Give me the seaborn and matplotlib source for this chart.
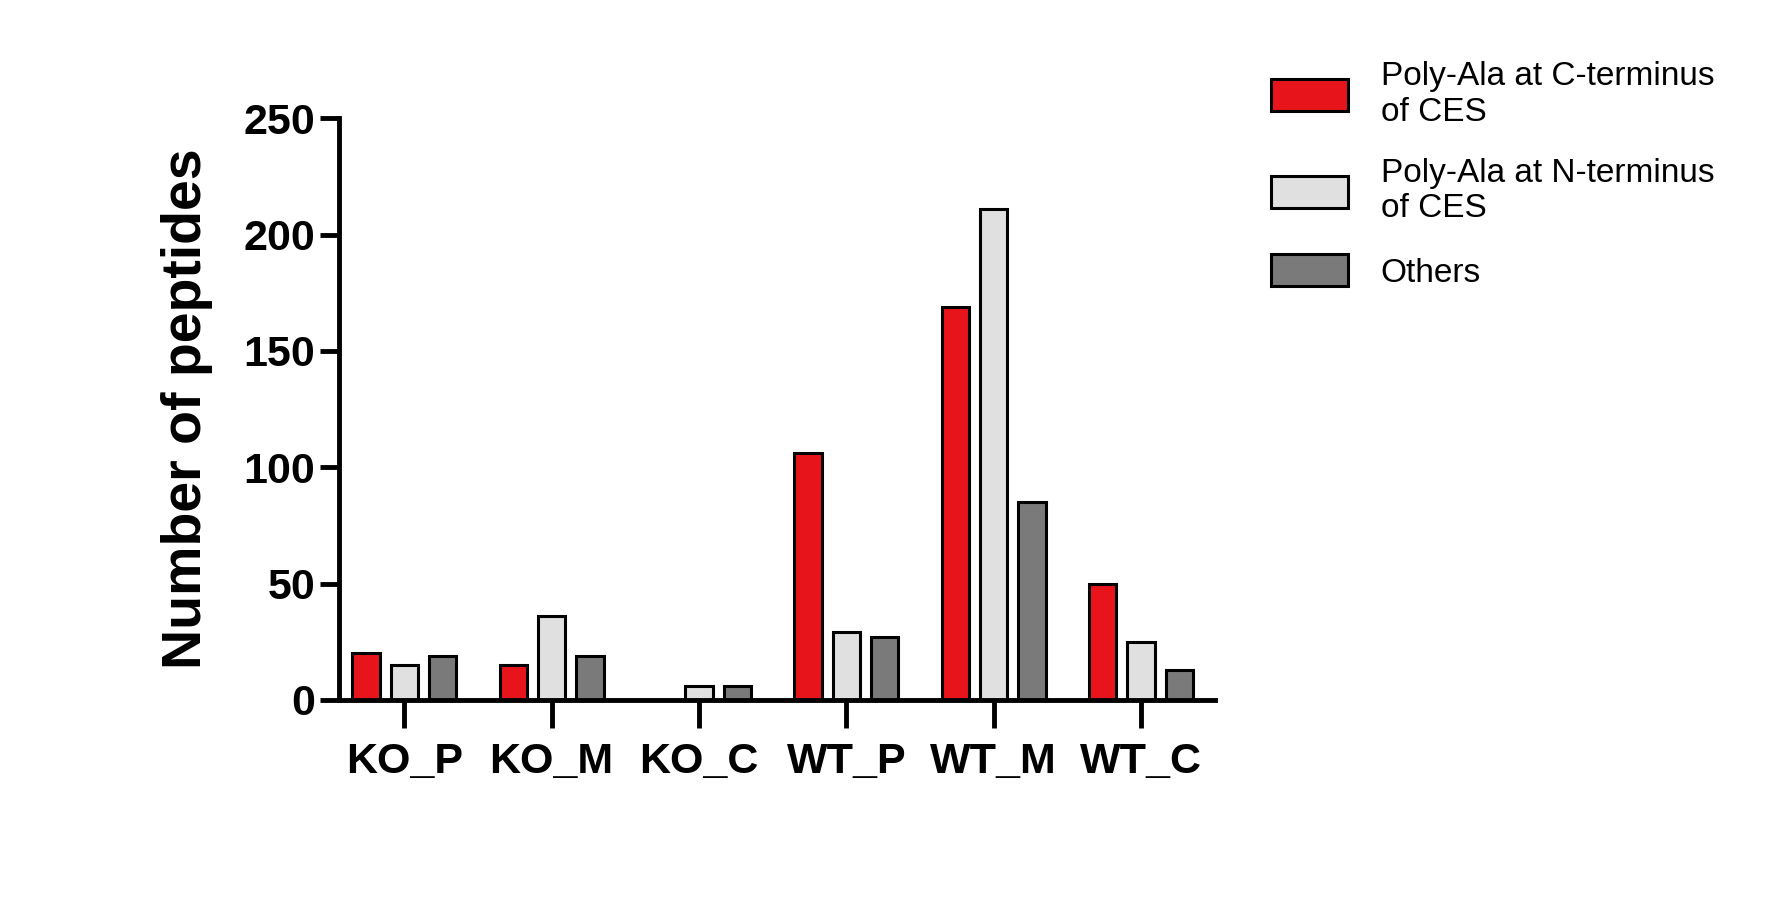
import matplotlib
matplotlib.use("Agg")
import matplotlib.pyplot as plt
import seaborn as sns
import pandas as pd

plt.rcParams['font.sans-serif'] = ['Liberation Sans', 'DejaVu Sans']
plt.rcParams['font.family'] = 'sans-serif'

samples = ["KO_P", "KO_M", "KO_C", "WT_P", "WT_M", "WT_C"]
series = ["Poly-Ala at C-terminus\nof CES", "Poly-Ala at N-terminus\nof CES", "Others"]
c_term = [20, 15, 0, 106, 169, 50]
n_term = [15, 36, 6, 29, 211, 25]
others = [19, 19, 6, 27, 85, 13]
colors = ["#e8141c", "#e0e0e0", "#7a7a7a"]

rows = []
for name, vals in zip(series, [c_term, n_term, others]):
    for s, v in zip(samples, vals):
        rows.append({"sample": s, "series": name, "count": v})
df = pd.DataFrame(rows)

fig = plt.figure(figsize=(17.68, 9.02), dpi=100)
ax = fig.add_axes([0.192, 0.224, 0.495, 0.645])
sns.barplot(data=df, x="sample", y="count", hue="series", palette=colors,
            saturation=1, width=0.78, gap=0.29, edgecolor="black",
            linewidth=2.2, ax=ax)

ax.set_xlim(-0.44, 5.5)
ax.set_ylim(0, 250)
ax.set_yticks([0, 50, 100, 150, 200, 250])
ax.set_xlabel("")
ax.set_ylabel("Number of peptides", fontsize=40, fontweight="bold", labelpad=22)
for sp in ["top", "right"]:
    ax.spines[sp].set_visible(False)
for sp in ["left", "bottom"]:
    ax.spines[sp].set_linewidth(3.5)
ax.tick_params(axis="x", length=20, width=3.5, labelsize=31, pad=10)
ax.tick_params(axis="y", length=14, width=3.5, labelsize=31)
for lbl in ax.get_xticklabels() + ax.get_yticklabels():
    lbl.set_fontweight("bold")

ax.legend(loc="upper left", bbox_to_anchor=(1.03, 1.15), frameon=False,
          fontsize=24, handlelength=2.3, handleheight=1.1, labelspacing=0.9,
          handletextpad=1.0)

fig.savefig("out.png", dpi=100)
